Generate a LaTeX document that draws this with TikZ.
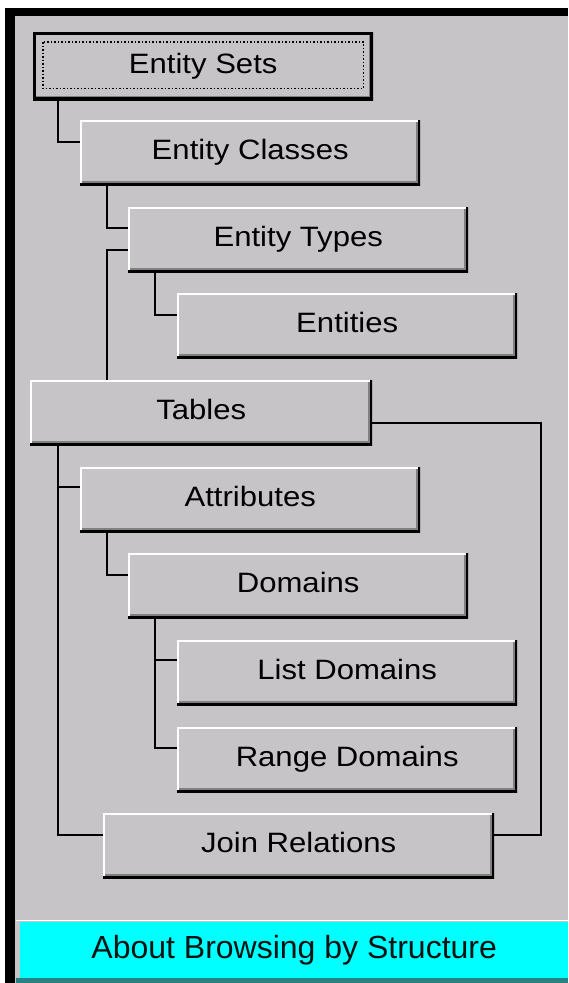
\documentclass[tikz,border=0pt]{standalone}
\usepackage{fontspec}
\setmainfont{Liberation Sans}
\newfontfamily\btnfont[FakeStretch=1.11]{Liberation Sans}
\definecolor{bg}{RGB}{199,196,199}
\definecolor{btnshadow}{RGB}{128,128,128}
\definecolor{aqua}{RGB}{0,255,255}
\definecolor{tealline}{RGB}{40,130,130}
\tikzset{
  conn/.style={draw=black, line width=2.5pt},
  btn/.style={fill=bg, anchor=north west, minimum width=340pt, minimum height=65pt,
    inner sep=0pt, text height=20pt, text depth=6pt, text=black,
    font=\btnfont\fontsize{28}{30}\selectfont,
    path picture={
      \draw[white, line width=4pt] (path picture bounding box.south west) -- (path picture bounding box.north west) -- (path picture bounding box.north east);
      \draw[btnshadow, line width=2pt] ([shift={(-3.5pt,-2pt)}]path picture bounding box.north east) -- ([shift={(-3.5pt,3.5pt)}]path picture bounding box.south east) -- ([shift={(2pt,3.5pt)}]path picture bounding box.south west);
      \draw[black, line width=5pt] (path picture bounding box.north east) -- (path picture bounding box.south east) -- (path picture bounding box.south west);
    }},
  aboutbar/.style={fill=aqua, anchor=north west, minimum width=548pt, minimum height=56pt,
    inner sep=0pt, text height=23pt, text depth=7pt, text=black!85!teal,
    font=\fontsize{32}{34}\selectfont}
}
\begin{document}
\begin{tikzpicture}[x=1pt,y=-1pt]
\useasboundingbox (0,0) rectangle (568,983);
\fill[white] (0,0) rectangle (568,983);
\fill[bg] (15,16) rectangle (568,983);
\fill[black] (5,8) rectangle (568,16);
\fill[black] (5,8) rectangle (15,983);

% buttons
\node[btn, minimum height=68pt] (es) at (33,32) {Entity Sets};
\draw[black, line width=3pt] ([shift={(1.5pt,-1.5pt)}]es.north west) rectangle ([shift={(-1.5pt,1.5pt)}]es.south east);
\draw[black, dotted, line width=1.5pt] ([shift={(10pt,-10pt)}]es.north west) rectangle ([shift={(-10pt,12pt)}]es.south east);
\node[btn] (ec) at (80,120) {Entity Classes};
\node[btn] (et) at (128,207) {Entity Types};
\node[btn] (en) at (177,293) {Entities};
\node[btn, minimum width=342pt] (tb) at (30,380) {Tables};
\node[btn] (at) at (80,467) {Attributes};
\node[btn] (dm) at (128,553) {Domains};
\node[btn] (ld) at (177,640) {List Domains};
\node[btn] (rd) at (177,727) {Range Domains};
\node[btn, minimum width=391pt] (jr) at (103,813) {Join Relations};

% connectors
\draw[conn] ([xshift=25pt]es.south west) |- ([yshift=-22pt]ec.north west);
\draw[conn] ([xshift=27pt]ec.south west) |- ([yshift=-21pt]et.north west);
\draw[conn] ([xshift=77pt]tb.north west) |- ([yshift=-43pt]et.north west);
\draw[conn] ([xshift=27pt]et.south west) |- ([yshift=-22pt]en.north west);
\draw[conn] ([xshift=28pt]tb.south west) |- ([yshift=-20pt]at.north west);
\draw[conn] ([xshift=28pt]tb.south west) |- ([yshift=-22pt]jr.north west);
\draw[conn] ([xshift=27pt]at.south west) |- ([yshift=-22pt]dm.north west);
\draw[conn] ([xshift=27pt]dm.south west) |- ([yshift=-20pt]ld.north west);
\draw[conn] ([xshift=27pt]dm.south west) |- ([yshift=-21pt]rd.north west);
\coordinate (rt) at (541,423);
\draw[conn] (tb.east |- rt) -- (rt) |- ([yshift=-22pt]jr.north east);

% bottom bar
\draw[white, line width=1.5pt] (16,920.5) -- (568,920.5);
\node[aboutbar] (ab) at (20,922) {About Browsing by Structure};
\fill[tealline] (16,978) rectangle (568,983);
\end{tikzpicture}
\end{document}
